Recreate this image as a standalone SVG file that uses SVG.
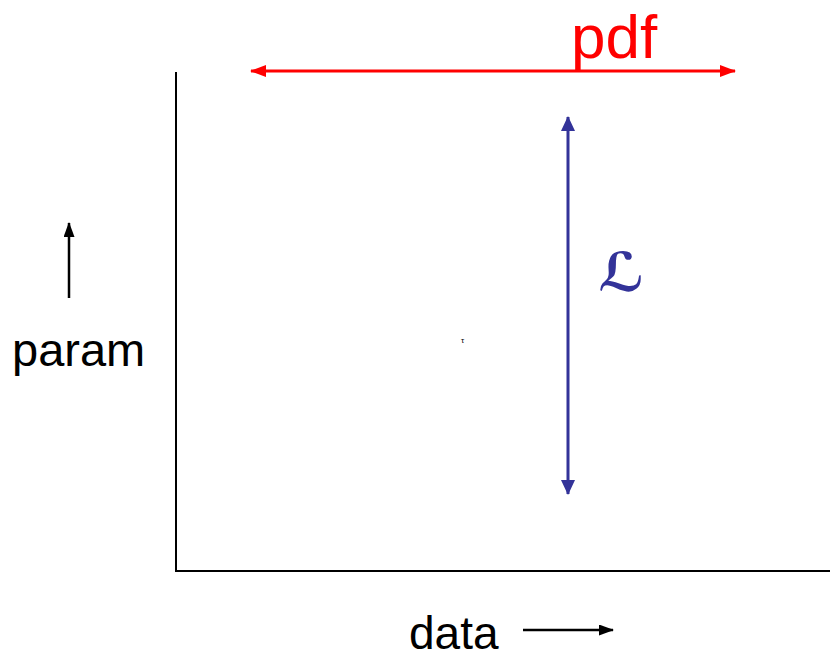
<svg xmlns="http://www.w3.org/2000/svg" width="830" height="659" viewBox="0 0 830 659">
<defs>
<style>
.lbl{font-family:"Liberation Sans",Arial,sans-serif;fill:#000}
.ax{stroke:#000;stroke-width:2;fill:none}
</style>
<marker id="ar" viewBox="0 0 16 12" refX="15" refY="6" markerWidth="16" markerHeight="12" markerUnits="userSpaceOnUse" orient="auto-start-reverse"><path d="M0,0L16,6L0,12z" fill="#FF0000"/></marker>
<marker id="ab" viewBox="0 0 15 14" refX="14" refY="7" markerWidth="15" markerHeight="14" markerUnits="userSpaceOnUse" orient="auto-start-reverse"><path d="M0,0L15,7L0,14z" fill="#333399"/></marker>
<marker id="ak" viewBox="0 0 15 11" refX="14" refY="5.5" markerWidth="15" markerHeight="11" markerUnits="userSpaceOnUse" orient="auto"><path d="M0,0L15,5.5L0,11z" fill="#000"/></marker>
</defs>
<g id="axes">
<path class="ax" d="M176,72V571H830"/>
</g>
<g id="connectors">
<line x1="251" y1="71" x2="735" y2="71" stroke="#FF0000" stroke-width="3" marker-start="url(#ar)" marker-end="url(#ar)"/>
<line x1="568" y1="117" x2="568" y2="494" stroke="#333399" stroke-width="3" marker-start="url(#ab)" marker-end="url(#ab)"/>
<line x1="69" y1="298" x2="69" y2="223" stroke="#000" stroke-width="2.5" marker-end="url(#ak)"/>
<line x1="523" y1="630" x2="613" y2="630" stroke="#000" stroke-width="2.5" marker-end="url(#ak)"/>
</g>
<g id="pdf"><text x="571" y="58" font-family="Liberation Sans,Arial,sans-serif" font-size="62" fill="#FF0000">pdf</text></g>
<g id="L"><text x="598" y="291" font-family="DejaVu Sans,sans-serif" font-size="54" font-weight="bold" fill="#333399">ℒ</text></g>
<g id="param"><text class="lbl" x="12" y="366" font-size="47">param</text></g>
<g id="data"><text class="lbl" x="409" y="649" font-size="46">data</text></g>
<g id="tau"><text class="lbl" x="461" y="343" font-size="8" fill="#333">τ</text></g>
</svg>
